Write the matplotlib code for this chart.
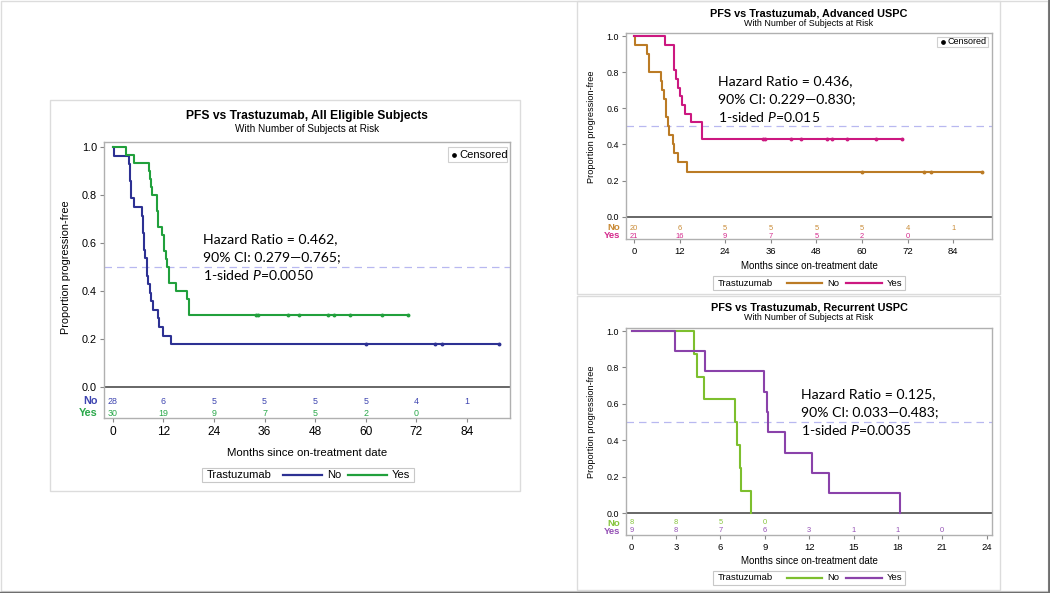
import matplotlib
matplotlib.use("Agg")
import matplotlib.pyplot as plt
from matplotlib.lines import Line2D
from matplotlib.patches import Rectangle

plt.rcParams["font.family"] = "Liberation Sans"
plt.rcParams["mathtext.fontset"] = "custom"
plt.rcParams["mathtext.rm"] = "Lato"
plt.rcParams["mathtext.it"] = "Lato:italic"

W, H = 1050, 593
NOTE_FONT = "Lato"

# ── Data: all eligible subjects ───────────────────────────────────────────────
all_no_t = [0, 0.3, 3.8, 4.1, 4.4, 5.0, 7.0, 7.2, 7.4, 7.6, 8.0, 8.3, 8.7, 9.0, 9.5, 10.7, 11.0, 11.8, 13.8]
all_no_s = [1.0, 0.964, 0.929, 0.857, 0.786, 0.75, 0.714, 0.643, 0.571, 0.536, 0.464, 0.429, 0.393,
            0.357, 0.321, 0.286, 0.25, 0.214, 0.179]
all_no_cens = [60.0, 76.3, 78.1, 91.5]
all_yes_t = [0, 3.0, 5.0, 8.6, 8.9, 9.1, 9.3, 10.5, 10.7, 11.7, 12.2, 12.5, 12.9, 13.4, 15.0, 17.7, 18.0]
all_yes_s = [1.0, 0.967, 0.933, 0.9, 0.867, 0.833, 0.8, 0.733, 0.667, 0.633, 0.567, 0.533, 0.5,
             0.433, 0.4, 0.367, 0.3]
all_yes_cens = [34.0, 34.5, 41.6, 44.2, 51.0, 52.5, 56.3, 63.8, 70.1]
all_risk_no = [28, 6, 5, 5, 5, 5, 4, 1]
all_risk_yes = [30, 19, 9, 7, 5, 2, 0]
all_note = ["Hazard Ratio = 0.462,", "90% CI: 0.279\u20140.765;", "1-sided $P$=0.0050"]

# ── Data: advanced USPC ───────────────────────────────────────────────────────
adv_no_t = [0, 0.3, 3.5, 4.0, 7.1, 7.5, 8.0, 8.4, 8.9, 9.3, 10.2, 10.6, 11.7, 13.9]
adv_no_s = [1.0, 0.95, 0.9, 0.8, 0.75, 0.7, 0.65, 0.55, 0.5, 0.45, 0.4, 0.35, 0.3, 0.25]
adv_no_cens = [60.0, 76.4, 78.2, 91.6]
adv_yes_t = [0, 8.2, 10.4, 11.1, 11.7, 12.1, 12.6, 13.4, 14.9, 17.8]
adv_yes_s = [1.0, 0.952, 0.81, 0.762, 0.714, 0.667, 0.619, 0.571, 0.524, 0.429]
adv_yes_cens = [34.0, 34.5, 41.3, 43.9, 50.8, 52.1, 56.0, 63.7, 70.4]
adv_risk_no = [20, 6, 5, 5, 5, 5, 4, 1]
adv_risk_yes = [21, 16, 9, 7, 5, 2, 0]
adv_note = ["Hazard Ratio = 0.436,", "90% CI: 0.229\u20140.830;", "1-sided $P$=0.015"]

# ── Data: recurrent USPC ──────────────────────────────────────────────────────
rec_no_t = [0, 4.24, 4.44, 4.9, 7.0, 7.15, 7.35, 7.42, 8.07]
rec_no_s = [1.0, 0.875, 0.75, 0.625, 0.5, 0.375, 0.25, 0.125, 0.0]
rec_yes_t = [0, 2.93, 4.96, 8.95, 9.13, 9.2, 10.37, 12.17, 13.34, 18.14]
rec_yes_s = [1.0, 0.889, 0.778, 0.667, 0.556, 0.444, 0.333, 0.222, 0.111, 0.0]
rec_risk_no = [8, 8, 5, 0]
rec_risk_yes = [9, 8, 7, 6, 3, 1, 1, 0]
rec_note = ["Hazard Ratio = 0.125,", "90% CI: 0.033\u20140.483;", "1-sided $P$=0.0035"]

months_84 = [0, 12, 24, 36, 48, 60, 72, 84]
months_24 = [0, 3, 6, 9, 12, 15, 18, 21, 24]


def fxy(x, y):
    return x / W, 1 - y / H


def box_px(fig, x0, y0, x1, y1, color, lw=1.0):
    fig.add_artist(Rectangle((x0 / W, 1 - y1 / H), (x1 - x0) / W, (y1 - y0) / H,
                             transform=fig.transFigure, fill=False, ec=color, lw=lw))


def draw_panel(fig, g, title, curves, risk_x, risks, note, censored_box, sizes):
    l, t, r, b, y1px, y0px = g["axes"]
    unit = y0px - y1px
    ax = fig.add_axes([l / W, 1 - b / H, (r - l) / W, (b - t) / H])
    ax.set_xlim(*g["xlim"])
    ax.set_ylim((y0px - b) / unit, (y0px - t) / unit)

    ax.axhline(0.5, color="#b8b8f0", lw=0.9, dashes=(6, 4), zorder=1)
    ax.axhline(0.0, color="#5a5a5a", lw=1.3, zorder=2)
    for c in curves:
        ax.step(c["t"] + [c["end"]], c["s"] + [c["s"][-1]], where="post",
                color=c["color"], lw=1.5, zorder=3)
        if c["cens"]:
            ax.plot(c["cens"], [c["s"][-1]] * len(c["cens"]), "o", ms=1.8,
                    color=c["color"], zorder=4)

    # at-risk table inside the frame
    for (vals, color, ypx, lab) in risks:
        yv = (y0px - ypx) / unit
        for xv, n in zip(risk_x, vals):
            ax.text(xv, yv, str(n), color=color, fontsize=sizes["risk"],
                    ha="center", va="center")
        fig.text(*fxy(l - 6, ypx), lab, color=color, fontsize=sizes["risklab"],
                 ha="right", va="center", fontweight="bold")

    ax.set_yticks([0, 0.2, 0.4, 0.6, 0.8, 1.0])
    ax.set_yticklabels(["0.0", "0.2", "0.4", "0.6", "0.8", "1.0"])
    ax.set_xticks(g["xticks"])
    ax.tick_params(length=3, width=0.8, color="#888888", pad=2,
                   labelsize=sizes["tick"])
    ax.tick_params(axis="x", labelsize=sizes["xtick"], pad=3)
    for sp in ax.spines.values():
        sp.set_color("#b0b0b0")
        sp.set_linewidth(1.0)

    cx = (l + r) / 2
    fig.text(*fxy(cx, g["title_y"]), title, fontsize=sizes["title"], fontweight="bold",
             ha="center", va="center")
    fig.text(*fxy(cx, g["title_y"] + sizes["sub_gap"]), "With Number of Subjects at Risk",
             fontsize=sizes["sub"], ha="center", va="center")
    fig.text(*fxy(g["ylab_x"], (y1px + y0px) / 2), "Proportion progression-free",
             fontsize=sizes["ylab"], rotation=90, ha="center", va="center")
    fig.text(*fxy(cx, g["xlab_y"]), "Months since on-treatment date",
             fontsize=sizes["xlab"], ha="center", va="center")

    nx, ny = g["note"]
    for i, line in enumerate(note):
        fig.text(*fxy(nx, ny + 18 * i), line, fontsize=10.1, family=NOTE_FONT,
                 ha="left", va="center")

    if censored_box:
        bx0, by0, bx1, by1 = censored_box
        box_px(fig, bx0, by0, bx1, by1, "#d0d0d0", 0.8)
        fig.add_artist(Line2D([(bx0 + 6) / W], [1 - (by0 + by1) / 2 / H], marker="o", ms=2.4,
                              color="black", transform=fig.transFigure))
        fig.text(*fxy(bx0 + 11, (by0 + by1) / 2), "Censored", fontsize=sizes["cens"],
                 ha="left", va="center")

    # bottom legend
    lx0, lx1, ly = g["legend"]
    box_px(fig, lx0, ly - 7, lx1, ly + 7, "#c8c8c8", 0.8)
    fig.text(*fxy(lx0 + 5, ly), "Trastuzumab", fontsize=sizes["leg"], ha="left", va="center")
    for (x_a, x_b, lab), c in zip(g["legend_items"], curves):
        fig.add_artist(Line2D([x_a / W, x_b / W], [1 - ly / H] * 2, color=c["color"], lw=1.6,
                              transform=fig.transFigure))
        fig.text(*fxy(x_b + 5, ly), lab, fontsize=sizes["leg"], ha="left", va="center")
    return ax


def main():
    fig = plt.figure(figsize=(W / 100, H / 100), dpi=100)
    fig.patch.set_facecolor("white")

    # outer frame and panel frames
    box_px(fig, 0.5, 0.5, 1048, 591, "#dcdcdc", 1.0)
    fig.add_artist(Line2D([0, 1], [0.5 / H] * 2, color="#6e6e6e", lw=2.5, transform=fig.transFigure))
    fig.add_artist(Line2D([1 - 0.8 / W] * 2, [0, 1], color="#6e6e6e", lw=2.0, transform=fig.transFigure))
    box_px(fig, 50, 100, 520, 491, "#dcdcdc", 1.0)
    box_px(fig, 577, 1, 1000, 294, "#dcdcdc", 1.0)
    box_px(fig, 577, 296, 1000, 590, "#dcdcdc", 1.0)

    big = dict(risk=6.4, risklab=7.8, tick=7.8, xtick=8.6, title=8.7, sub=7.2, sub_gap=13,
               ylab=7.8, xlab=8.2, leg=8.0, cens=8.0)
    small = dict(risk=5.4, risklab=6.8, tick=6.4, xtick=6.8, title=7.8, sub=6.4, sub_gap=10,
                 ylab=6.6, xlab=7.0, leg=6.8, cens=6.5)

    c_blue, c_green = "#2d3193", "#21a03c"
    c_orange, c_mag = "#bb7b25", "#cc1880"
    c_lgreen, c_purple = "#7dbf2e", "#8a42aa"

    g_all = dict(axes=(104, 142, 510, 418, 147, 387), xlim=(-2.1, 94.2), xticks=months_84,
                 title_y=116, ylab_x=66, xlab_y=453, note=(203, 239),
                 legend=(202, 414, 475), legend_items=[(283, 322, "No"), (348, 387, "Yes")])
    draw_panel(fig, g_all, "PFS vs Trastuzumab, All Eligible Subjects",
               [dict(t=all_no_t, s=all_no_s, cens=all_no_cens, end=91.5, color=c_blue),
                dict(t=all_yes_t, s=all_yes_s, cens=all_yes_cens, end=70.1, color=c_green)],
               months_84,
               [(all_risk_no, "#3d44b0", 401, "No"), (all_risk_yes, "#2aa84a", 413, "Yes")],
               all_note, (448, 147, 507, 162), big)

    g_adv = dict(axes=(626, 33, 992, 239, 36, 216.7), xlim=(-2.1, 94.2), xticks=months_84,
                 title_y=13, ylab_x=591, xlab_y=266, note=(718, 81),
                 legend=(713, 905, 283), legend_items=[(787, 822, "No"), (846, 882, "Yes")])
    draw_panel(fig, g_adv, "PFS vs Trastuzumab, Advanced USPC",
               [dict(t=adv_no_t, s=adv_no_s, cens=adv_no_cens, end=91.6, color=c_orange),
                dict(t=adv_yes_t, s=adv_yes_s, cens=adv_yes_cens, end=70.4, color=c_mag)],
               months_84,
               [(adv_risk_no, "#c98a35", 228, "No"), (adv_risk_yes, "#d42a8c", 236, "Yes")],
               adv_note, (937, 37, 988, 47), small)

    g_rec = dict(axes=(626, 328, 992, 535, 331, 513.3), xlim=(-0.38, 24.36), xticks=months_24,
                 title_y=308, ylab_x=591, xlab_y=561, note=(801, 394),
                 legend=(713, 905, 578), legend_items=[(787, 822, "No"), (846, 882, "Yes")])
    draw_panel(fig, g_rec, "PFS vs Trastuzumab, Recurrent USPC",
               [dict(t=rec_no_t, s=rec_no_s, cens=[], end=rec_no_t[-1], color=c_lgreen),
                dict(t=rec_yes_t, s=rec_yes_s, cens=[], end=rec_yes_t[-1], color=c_purple)],
               months_24,
               [(rec_risk_no, "#86c43c", 523, "No"), (rec_risk_yes, "#9450b5", 531, "Yes")],
               rec_note, None, small)

    fig.savefig("out.png", dpi=100)
    plt.close(fig)


if __name__ == "__main__":
    main()
